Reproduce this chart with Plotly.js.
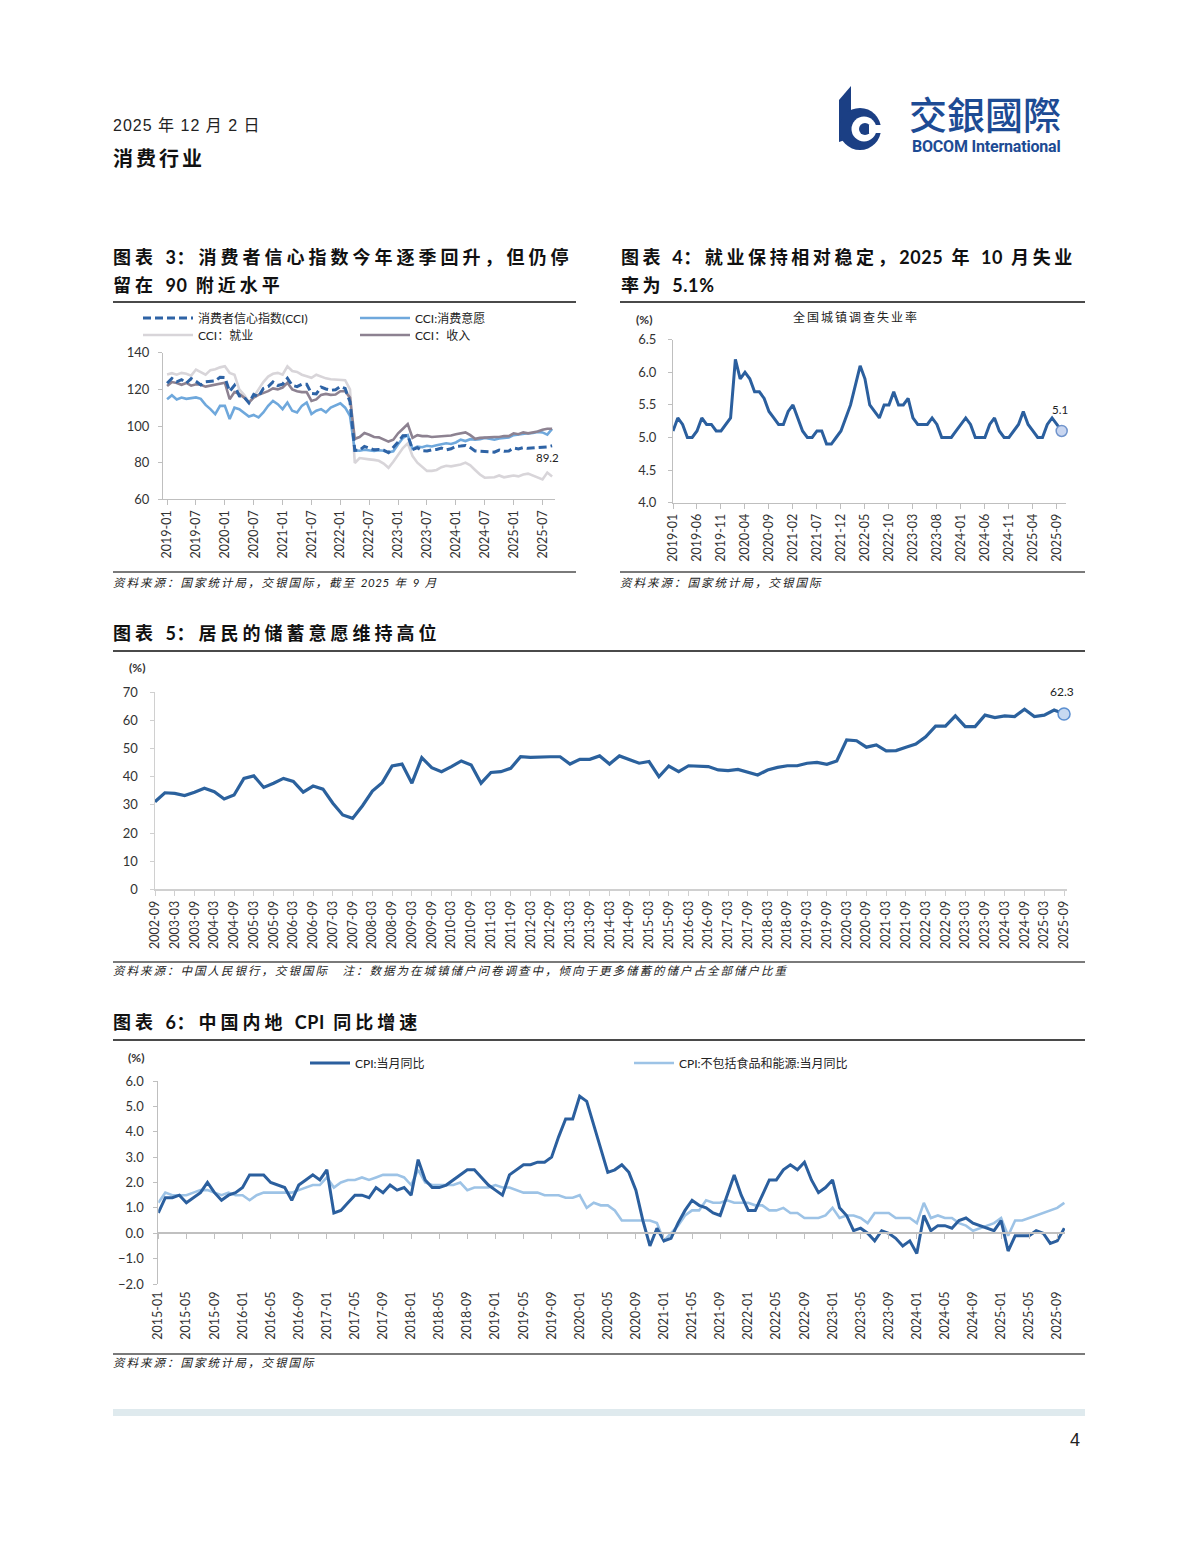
<!DOCTYPE html>
<html>
<head>
<meta charset="utf-8">
<script src="https://cdn.plot.ly/plotly-3.0.1.min.js"></script>
<style>
html,body{margin:0;padding:0;background:#fff;}
#page{position:relative;width:1200px;height:1555px;overflow:hidden;background:#fff;}
#plot{position:absolute;left:0;top:0;width:1200px;height:1555px;}
.t{position:absolute;white-space:nowrap;color:#111;font-family:Lato,"Noto Sans CJK SC",sans-serif;line-height:1;pointer-events:none;}
.title{font-size:18px;font-weight:700;color:#111;}
.src{font-size:11.5px;font-style:italic;letter-spacing:2px;color:#222;}
.n{letter-spacing:0.6px;}
.rule{position:absolute;height:2px;background:#4a4a4a;}
.rule2{position:absolute;height:2px;background:#7a7a7a;}
</style>
</head>
<body>
<div id="page">
<div id="plot"></div>

<!-- header -->
<div class="t" style="left:113px;top:118px;font-size:16px;letter-spacing:1px;font-family:'Liberation Sans','Noto Sans CJK SC',sans-serif;color:#222;">2025 年 12 月 2 日</div>
<div class="t" style="left:113px;top:148px;font-size:20px;font-weight:700;letter-spacing:3px;">消费行业</div>

<svg style="position:absolute;left:836px;top:84px;" width="50" height="76" viewBox="0 0 50 76">
  <polygon points="3,16 15,2 15,54 3,58" fill="#1b3f84"/>
  <circle cx="24" cy="45" r="21" fill="#1b3f84"/>
  <circle cx="28" cy="45" r="12.5" fill="#ffffff"/>
  <circle cx="29" cy="45" r="6" fill="#1b3f84"/>
  <rect x="33" y="41" width="16" height="8" fill="#ffffff"/>
</svg>
<div class="t" style="left:909px;top:94px;font-size:38px;font-weight:500;color:#1d4b94;font-family:'Noto Sans CJK TC',sans-serif;">交銀國際</div>
<div class="t" style="left:912px;top:139px;font-size:16px;font-weight:700;color:#1d4b94;font-family:'Roboto','Lato',sans-serif;letter-spacing:-0.2px;">BOCOM International</div>

<!-- chart 3 / 4 titles -->
<div class="t title" style="left:113px;top:248px;letter-spacing:4px;">图表 <span class="n">3</span>：消费者信心指数今年逐季回升，但仍停</div>
<div class="t title" style="left:113px;top:276px;letter-spacing:4px;">留在 <span class="n">90</span> 附近水平</div>
<div class="t title" style="left:621px;top:248px;letter-spacing:3.6px;">图表 <span class="n">4</span>：就业保持相对稳定，<span class="n">2025</span> 年 <span class="n">10</span> 月失业</div>
<div class="t title" style="left:621px;top:276px;letter-spacing:3.6px;">率为 <span class="n">5.1%</span></div>
<div class="rule" style="left:113px;top:301px;width:463px;"></div>
<div class="rule" style="left:620px;top:301px;width:465px;"></div>
<div class="rule2" style="left:113px;top:571px;width:463px;"></div>
<div class="rule2" style="left:620px;top:571px;width:465px;"></div>
<div class="t src" style="left:113px;top:577px;">资料来源：国家统计局，交银国际，截至 <span class="n">2025</span> 年 <span class="n">9</span> 月</div>
<div class="t src" style="left:620px;top:577px;">资料来源：国家统计局，交银国际</div>
<div class="t" style="left:636px;top:314px;font-size:12px;font-weight:700;color:#333;">(%)</div>
<div class="t" style="left:793px;top:312px;font-size:12px;letter-spacing:2px;color:#222;">全国城镇调查失业率</div>

<!-- chart 5 -->
<div class="t title" style="left:113px;top:624px;letter-spacing:4px;">图表 <span class="n">5</span>：居民的储蓄意愿维持高位</div>
<div class="rule" style="left:113px;top:650px;width:972px;"></div>
<div class="t" style="left:129px;top:662px;font-size:12px;font-weight:700;color:#333;">(%)</div>
<div class="rule2" style="left:113px;top:961px;width:972px;"></div>
<div class="t src" style="left:113px;top:965px;">资料来源：中国人民银行，交银国际　注：数据为在城镇储户问卷调查中，倾向于更多储蓄的储户占全部储户比重</div>

<!-- chart 6 -->
<div class="t title" style="left:113px;top:1013px;letter-spacing:4px;">图表 <span class="n">6</span>：中国内地 <span class="n">CPI</span> 同比增速</div>
<div class="rule" style="left:113px;top:1039px;width:972px;"></div>
<div class="t" style="left:128px;top:1052px;font-size:12px;font-weight:700;color:#333;">(%)</div>
<div class="rule2" style="left:113px;top:1353px;width:972px;"></div>
<div class="t src" style="left:113px;top:1357px;">资料来源：国家统计局，交银国际</div>

<!-- footer -->
<div style="position:absolute;left:113px;top:1409px;width:972px;height:7px;background:#dfeaee;"></div>
<div class="t" style="left:1070px;top:1431px;font-size:18px;color:#222;font-family:'Liberation Sans',sans-serif;">4</div>
</div>

<script>
// ---------- helpers for category labels ----------
function monthSeq(y, m, n, step) {
  step = step || 1;
  var out = [];
  for (var i = 0; i < n; i++) {
    var k = (m - 1) + i * step;
    var yy = y + Math.floor(k / 12), mm = k % 12 + 1;
    out.push(yy + '-' + (mm < 10 ? '0' : '') + mm);
  }
  return out;
}

// ---------- Chart 3: consumer confidence (monthly 2019-01 .. 2025-09) ----------
var cciMonths = monthSeq(2019, 1, 81);
var cciTicks = ['2019-01','2019-07','2020-01','2020-07','2021-01','2021-07','2022-01','2022-07','2023-01','2023-07','2024-01','2024-07','2025-01','2025-07'];
var cciIndex = [
  123.3,125.9,124.1,125.3,123.4,125.9,124.4,122.4,124.1,124.3,124.6,126.6,
  126.4,118.9,122.2,116.4,115.8,112.6,117.2,116.1,120.5,121.5,124.0,122.1,
  122.8,126.0,122.2,121.5,122.8,122.8,117.8,117.5,121.2,120.2,119.5,119.8,
  121.5,120.5,113.2,86.7,86.8,88.9,87.9,87.0,87.2,86.8,85.5,88.3,
  91.2,94.7,94.9,87.1,88.2,86.5,86.4,87.0,87.2,87.9,87.0,87.6,
  88.9,89.1,89.4,88.2,86.4,86.2,86.0,85.8,85.7,86.9,86.2,86.4,
  88.0,87.5,88.2,87.8,88.0,88.0,88.3,88.6,89.2];
var cciWillingness = [
  114.6,116.8,114.5,115.5,114.8,115.3,115.6,114.8,111.5,109.2,106.5,111.0,
  111.0,103.8,110.0,109.2,107.4,105.2,106.0,104.7,107.4,111.0,113.7,111.9,
  109.2,112.8,108.3,107.4,111.0,112.8,106.5,108.3,109.2,107.4,110.0,111.0,
  112.4,110.0,105.6,86.7,86.5,87.0,86.6,86.4,86.8,86.5,85.6,86.2,
  90.0,93.5,95.0,87.5,88.8,88.4,89.2,88.8,89.5,90.0,90.6,90.2,
  91.0,92.5,91.8,92.8,92.5,92.8,93.5,93.0,92.5,93.2,93.6,93.8,
  95.0,95.2,95.5,96.0,96.2,96.8,96.5,95.3,98.4];
var cciEmployment = [
  128.1,128.8,128.0,129.0,128.5,127.5,130.8,129.6,128.0,130.5,131.0,132.0,
  132.6,129.0,128.0,120.0,117.0,113.0,116.0,120.0,124.0,127.0,128.5,129.0,
  128.0,132.6,130.0,129.5,128.0,127.2,126.3,128.0,127.0,126.0,125.5,125.4,
  125.4,125.0,120.0,79.8,82.5,82.0,81.8,81.5,81.0,79.5,77.2,80.5,
  84.5,88.0,90.5,83.6,80.0,78.0,75.5,75.5,76.0,77.5,78.3,78.0,
  78.3,79.0,80.0,78.5,76.0,73.5,71.8,71.8,72.0,73.0,72.0,72.5,
  73.0,72.5,73.5,74.0,73.0,72.0,70.8,74.6,72.4];
var cciIncome = [
  121.8,124.0,123.5,122.5,123.5,122.0,122.8,122.5,121.5,122.0,122.5,123.0,
  123.6,114.6,118.5,117.5,115.5,112.8,115.5,117.0,117.8,119.0,120.5,120.0,
  121.0,123.6,120.0,119.0,118.5,118.5,113.7,114.5,117.0,117.5,117.0,117.2,
  119.0,119.0,115.5,93.0,94.0,96.2,95.2,94.0,93.8,92.8,91.5,92.5,
  96.0,98.5,101.0,93.5,95.0,94.5,94.5,94.0,94.2,94.5,95.0,94.8,
  95.5,95.8,96.5,95.0,93.0,93.5,93.8,93.8,94.0,94.0,94.5,94.5,
  96.0,95.5,96.5,96.0,96.5,97.0,98.0,98.5,98.5];

// ---------- Chart 4: urban surveyed unemployment (monthly 2019-01 .. 2025-10) ----------
var unempMonths = monthSeq(2019, 1, 82);
var unempTicks = ['2019-01','2019-06','2019-11','2020-04','2020-09','2021-02','2021-07','2021-12','2022-05','2022-10','2023-03','2023-08','2024-01','2024-06','2024-11','2025-04','2025-09'];
var unempRate = [
  5.1,5.3,5.2,5.0,5.0,5.1,5.3,5.2,5.2,5.1,5.1,5.2,
  5.3,6.2,5.9,6.0,5.9,5.7,5.7,5.6,5.4,5.3,5.2,5.2,
  5.4,5.5,5.3,5.1,5.0,5.0,5.1,5.1,4.9,4.9,5.0,5.1,
  5.3,5.5,5.8,6.1,5.9,5.5,5.4,5.3,5.5,5.5,5.7,5.5,
  5.5,5.6,5.3,5.2,5.2,5.2,5.3,5.2,5.0,5.0,5.0,5.1,
  5.2,5.3,5.2,5.0,5.0,5.0,5.2,5.3,5.1,5.0,5.0,5.1,
  5.2,5.4,5.2,5.1,5.0,5.0,5.2,5.3,5.2,5.1];

// ---------- Chart 5: saving willingness (quarterly 2002-09 .. 2025-09) ----------
var savingQuarters = monthSeq(2002, 9, 93, 3);
var savingTicks = ['2002-09','2003-03','2003-09','2004-03','2004-09','2005-03','2005-09','2006-03','2006-09','2007-03','2007-09','2008-03','2008-09','2009-03','2009-09','2010-03','2010-09','2011-03','2011-09','2012-03','2012-09','2013-03','2013-09','2014-03','2014-09','2015-03','2015-09','2016-03','2016-09','2017-03','2017-09','2018-03','2018-09','2019-03','2019-09','2020-03','2020-09','2021-03','2021-09','2022-03','2022-09','2023-03','2023-09','2024-03','2024-09','2025-03','2025-09'];
var savingShare = [
  31.1,34.3,34.1,33.3,34.5,35.9,34.7,32.1,33.5,39.4,
  40.3,36.2,37.7,39.4,38.3,34.5,36.7,35.6,30.6,26.4,
  25.2,29.7,34.9,37.9,43.8,44.5,37.7,46.8,43.2,41.8,
  43.6,45.6,44.2,37.7,41.5,41.8,43.0,47.1,46.9,47.1,
  47.1,47.1,44.5,46.2,46.2,47.4,44.5,47.4,46.0,44.8,
  45.4,40.0,43.8,41.8,43.9,43.8,43.6,42.4,42.2,42.6,
  41.6,40.6,42.4,43.3,43.9,43.9,44.8,45.1,44.4,45.6,
  53.1,52.8,50.5,51.3,49.2,49.3,50.5,51.6,54.2,58.0,
  58.0,61.6,57.8,57.8,61.9,61.0,61.6,61.4,64.0,61.4,
  61.9,63.7,62.3];

// ---------- Chart 6: CPI yoy (monthly 2015-01 .. 2025-10) ----------
var cpiMonths = monthSeq(2015, 1, 130);
var cpiTicks = ['2015-01','2015-05','2015-09','2016-01','2016-05','2016-09','2017-01','2017-05','2017-09','2018-01','2018-05','2018-09','2019-01','2019-05','2019-09','2020-01','2020-05','2020-09','2021-01','2021-05','2021-09','2022-01','2022-05','2022-09','2023-01','2023-05','2023-09','2024-01','2024-05','2024-09','2025-01','2025-05','2025-09'];
var cpiYoy = [
  0.8,1.4,1.4,1.5,1.2,1.4,1.6,2.0,1.6,1.3,1.5,1.6,
  1.8,2.3,2.3,2.3,2.0,1.9,1.8,1.3,1.9,2.1,2.3,2.1,
  2.5,0.8,0.9,1.2,1.5,1.5,1.4,1.8,1.6,1.9,1.7,1.8,
  1.5,2.9,2.1,1.8,1.8,1.9,2.1,2.3,2.5,2.5,2.2,1.9,
  1.7,1.5,2.3,2.5,2.7,2.7,2.8,2.8,3.0,3.8,4.5,4.5,
  5.4,5.2,4.3,3.3,2.4,2.5,2.7,2.4,1.7,0.5,-0.5,0.2,
  -0.3,-0.2,0.4,0.9,1.3,1.1,1.0,0.8,0.7,1.5,2.3,1.5,
  0.9,0.9,1.5,2.1,2.1,2.5,2.7,2.5,2.8,2.1,1.6,1.8,
  2.1,1.0,0.7,0.1,0.2,0.0,-0.3,0.1,0.0,-0.2,-0.5,-0.3,
  -0.8,0.7,0.1,0.3,0.3,0.2,0.5,0.6,0.4,0.3,0.2,0.1,
  0.5,-0.7,-0.1,-0.1,-0.1,0.1,0.0,-0.4,-0.3,0.2];
var coreCpiYoy = [
  1.2,1.6,1.5,1.5,1.5,1.6,1.7,1.7,1.6,1.5,1.6,1.5,
  1.5,1.3,1.5,1.6,1.6,1.6,1.6,1.6,1.7,1.8,1.9,1.9,
  2.2,1.8,2.0,2.1,2.1,2.2,2.1,2.2,2.3,2.3,2.3,2.2,
  1.9,2.5,2.0,1.9,1.9,1.9,1.9,2.0,1.7,1.8,1.8,1.8,
  1.9,1.8,1.8,1.7,1.6,1.6,1.6,1.5,1.5,1.5,1.4,1.4,
  1.5,1.0,1.2,1.1,1.1,0.9,0.5,0.5,0.5,0.5,0.5,0.4,
  -0.3,0.0,0.3,0.7,0.9,0.9,1.3,1.2,1.2,1.3,1.2,1.2,
  1.2,1.1,1.1,0.9,0.9,1.0,0.8,0.8,0.6,0.6,0.6,0.7,
  1.0,0.6,0.7,0.7,0.6,0.4,0.8,0.8,0.8,0.6,0.6,0.6,
  0.4,1.2,0.6,0.7,0.6,0.6,0.4,0.3,0.1,0.2,0.3,0.4,
  0.6,-0.1,0.5,0.5,0.6,0.7,0.8,0.9,1.0,1.2];

// ---------- layout geometry ----------
var W = 1200, H = 1555;
function fx(p) { return p / W; }
function fy(p) { return 1 - p / H; }

var tickFont = {family: 'Lato, "Liberation Sans", sans-serif', size: 13, color: '#333'};
var xTickFont = {family: 'Lato, "Liberation Sans", sans-serif', size: 12.5, color: '#333'};
var legFont = {family: 'Lato, "Noto Sans CJK SC", sans-serif', size: 12, color: '#222'};
var labFont = {family: 'Lato, sans-serif', size: 11.5, color: '#222'};

function ax(extra) {
  var base = {showgrid: false, zeroline: false, showline: true, linecolor: '#bfbfbf', linewidth: 1,
    ticks: 'outside', ticklen: 4, tickcolor: '#bfbfbf', tickfont: tickFont, fixedrange: true};
  for (var k in extra) base[k] = extra[k];
  return base;
}
function lastOf(a) { return a[a.length - 1]; }

var traces = [
  // chart 3
  {x: cciMonths, y: cciEmployment, name: 'CCI：就业', type: 'scatter', mode: 'lines',
   line: {color: '#d8d5d9', width: 2.6}, xaxis: 'x', yaxis: 'y', legend: 'legend2', legendrank: 3},
  {x: cciMonths, y: cciWillingness, name: 'CCI:消费意愿', type: 'scatter', mode: 'lines',
   line: {color: '#6fa8dc', width: 2.6}, xaxis: 'x', yaxis: 'y', legend: 'legend', legendrank: 2},
  {x: cciMonths, y: cciIncome, name: 'CCI：收入', type: 'scatter', mode: 'lines',
   line: {color: '#8d8291', width: 2.6}, xaxis: 'x', yaxis: 'y', legend: 'legend2', legendrank: 4},
  {x: cciMonths, y: cciIndex, name: '消费者信心指数(CCI)', type: 'scatter', mode: 'lines',
   line: {color: '#2e63a5', width: 3, dash: '8px,4px'}, xaxis: 'x', yaxis: 'y', legend: 'legend', legendrank: 1},
  // chart 4
  {x: unempMonths, y: unempRate, type: 'scatter', mode: 'lines', line: {color: '#2b5f9e', width: 3},
   xaxis: 'x2', yaxis: 'y2', showlegend: false},
  {x: [lastOf(unempMonths)], y: [lastOf(unempRate)], mode: 'markers',
   marker: {size: 11, color: '#c9d6f0', line: {color: '#7094cc', width: 1.5}},
   cliponaxis: false, xaxis: 'x2', yaxis: 'y2', showlegend: false},
  // chart 5
  {x: savingQuarters, y: savingShare, type: 'scatter', mode: 'lines', line: {color: '#2b619d', width: 3.2},
   xaxis: 'x3', yaxis: 'y3', showlegend: false},
  {x: [lastOf(savingQuarters)], y: [lastOf(savingShare)], mode: 'markers',
   marker: {size: 12, color: '#c6d9f1', line: {color: '#5b8fd0', width: 1.5}},
   cliponaxis: false, xaxis: 'x3', yaxis: 'y3', showlegend: false},
  // chart 6
  {x: cpiMonths, y: coreCpiYoy, name: 'CPI:不包括食品和能源:当月同比', type: 'scatter', mode: 'lines',
   line: {color: '#9dc3e6', width: 2.6}, xaxis: 'x4', yaxis: 'y4', legend: 'legend3', legendrank: 2},
  {x: cpiMonths, y: cpiYoy, name: 'CPI:当月同比', type: 'scatter', mode: 'lines',
   line: {color: '#2b5f9e', width: 3}, xaxis: 'x4', yaxis: 'y4', legend: 'legend3', legendrank: 1},
  // helper trace to anchor the zero-line tick axis of chart 6
  {x: [0, cpiMonths.length - 1], y: [0, 0], mode: 'lines', line: {color: 'rgba(0,0,0,0)', width: 0},
   xaxis: 'x5', yaxis: 'y4', showlegend: false, hoverinfo: 'skip'}
];

var cpiTickIdx = cpiTicks.map(function (t) { return cpiMonths.indexOf(t); });

var annotations = [
  {xref: 'x', yref: 'y', x: lastOf(cciMonths), y: lastOf(cciIndex), text: lastOf(cciIndex).toFixed(1),
   showarrow: false, xshift: -5, yshift: -12, font: labFont},
  {xref: 'x2', yref: 'y2', x: lastOf(unempMonths), y: lastOf(unempRate), text: lastOf(unempRate).toFixed(1),
   showarrow: false, xshift: -2, yshift: 21, font: labFont},
  {xref: 'x3', yref: 'y3', x: lastOf(savingQuarters), y: lastOf(savingShare), text: lastOf(savingShare).toFixed(1),
   showarrow: false, xshift: -2, yshift: 22, font: {family: 'Lato, sans-serif', size: 12, color: '#222'}}
];

var layout = {
  width: W, height: H, margin: {l: 0, r: 0, t: 0, b: 0},
  paper_bgcolor: 'rgba(0,0,0,0)', plot_bgcolor: 'rgba(0,0,0,0)',
  hovermode: false,
  font: {family: 'Lato, "Noto Sans CJK SC", sans-serif', color: '#222'},
  annotations: annotations,
  // chart 3
  xaxis: ax({domain: [fx(163), fx(555)], anchor: 'y', type: 'category', range: [-0.85, 80.6],
    tickmode: 'array', tickvals: cciTicks, ticktext: cciTicks, tickangle: -90, ticklen: 5, tickfont: xTickFont}),
  yaxis: ax({domain: [fy(499.3), fy(352.7)], anchor: 'x', range: [60, 140], dtick: 20, tick0: 60, ticklabelstandoff: 6}),
  // chart 4
  xaxis2: ax({domain: [fx(673), fx(1066)], anchor: 'y2', type: 'category', range: [0, 81.9],
    tickmode: 'array', tickvals: unempTicks, ticktext: unempTicks, tickangle: -90, ticklen: 5, tickfont: xTickFont}),
  yaxis2: ax({domain: [fy(502.7), fy(339.7)], anchor: 'x2', range: [4, 6.5], dtick: 0.5, tick0: 4, tickformat: '.1f', ticklabelstandoff: 9}),
  // chart 5
  xaxis3: ax({domain: [fx(155), fx(1067)], anchor: 'y3', type: 'category', range: [0, 92.3],
    tickmode: 'array', tickvals: savingTicks, ticktext: savingTicks, tickangle: -90, ticklen: 5, tickfont: xTickFont,
    linecolor: '#d0d0d0', linewidth: 1.5, tickcolor: '#d0d0d0'}),
  yaxis3: ax({domain: [fy(889.3), fy(692.3)], anchor: 'x3', range: [0, 70], dtick: 10, tick0: 0, ticklabelstandoff: 9,
    linecolor: '#d0d0d0', linewidth: 1.5, tickcolor: '#d0d0d0'}),
  // chart 6
  xaxis4: ax({domain: [fx(158.3), fx(1065)], anchor: 'y4', type: 'category', range: [0, 129.1],
    tickmode: 'array', tickvals: cpiTicks, ticktext: cpiTicks, tickangle: -90, ticks: '', showline: false,
    ticklabelstandoff: 4, tickfont: xTickFont}),
  yaxis4: ax({domain: [fy(1284), fy(1081)], anchor: 'x4', range: [-2, 6], dtick: 1, tick0: -2, tickformat: '.1f', ticklabelstandoff: 7}),
  xaxis5: ax({domain: [fx(158.3), fx(1065)], anchor: 'free', position: fy(1233.3), overlaying: 'x4',
    range: [0, 129.1], tickmode: 'array', tickvals: cpiTickIdx, showticklabels: false,
    linecolor: '#c0c0c0', linewidth: 2, tickcolor: '#c0c0c0', ticklen: 5}),
  legend: {x: fx(138), xanchor: 'left', y: fy(318), yanchor: 'middle', orientation: 'h', font: legFont,
    bgcolor: 'rgba(0,0,0,0)', itemwidth: 50, entrywidth: 152, entrywidthmode: 'pixels', itemclick: false, itemdoubleclick: false},
  legend2: {x: fx(138), xanchor: 'left', y: fy(335), yanchor: 'middle', orientation: 'h', font: legFont,
    bgcolor: 'rgba(0,0,0,0)', itemwidth: 50, entrywidth: 152, entrywidthmode: 'pixels', itemclick: false, itemdoubleclick: false},
  legend3: {x: fx(305), xanchor: 'left', y: fy(1063), yanchor: 'middle', orientation: 'h', font: legFont,
    bgcolor: 'rgba(0,0,0,0)', itemwidth: 40, entrywidth: 269, entrywidthmode: 'pixels', itemclick: false, itemdoubleclick: false}
};

Plotly.newPlot('plot', traces, layout, {staticPlot: true, displayModeBar: false});
</script>
</body>
</html>
